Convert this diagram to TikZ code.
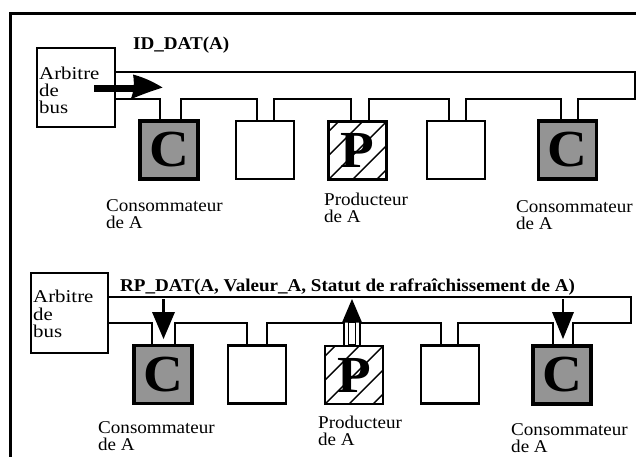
\documentclass[tikz,border=0pt]{standalone}
\usepackage{fontspec}
\setmainfont{Liberation Serif}[FakeStretch=1.06]
\newfontfamily\arbfont{Liberation Serif}[FakeStretch=1.16]
\begin{document}
\begin{tikzpicture}[x=1pt,y=-1pt,
  txt/.style={font=\fontsize{18}{18}\selectfont, inner sep=0pt, anchor=base west},
  arbtxt/.style={txt, font=\fontsize{18}{18}\arbfont},
  ttl/.style={txt, font=\fontsize{18}{18}\selectfont\bfseries},
  bus/.style={line width=2.4pt, line join=miter, line cap=rect},
  arbbox/.style={draw, line width=2.4pt, inner sep=0pt, fill=white},
  wbox/.style={draw, line width=2.6pt, minimum size=58pt, inner sep=0pt, fill=white,
    font=\fontsize{52}{52}\selectfont\bfseries},
  cbox/.style={wbox, line width=3.2pt, fill=black!42},
  pbox/.style={wbox, path picture={
      \foreach \d in {-72,-48,...,72}
        \draw[line width=1.4pt] ([xshift=\d pt]path picture bounding box.south west) -- ++(80,-80);}},
  arrowfill/.style={fill=black},
]
\useasboundingbox (0,0) rectangle (636,456);
% frame
\draw[line width=3pt] (640,13) -- (10,13) -- (10,460);

% ================= top section =================
\node[ttl] (t1) at (133,49) {ID\_DAT(A)};
% bus
\draw[bus] (115,99) -- (160,99) -- (160,121);
\draw[bus] (181,121) -- (181,99) -- (257,99) -- (257,121);
\draw[bus] (274,121) -- (274,99) -- (351,99) -- (351,121);
\draw[bus] (369,121) -- (369,99) -- (449,99) -- (449,121);
\draw[bus] (466,121) -- (466,99) -- (561,99) -- (561,121);
\draw[bus] (578,121) -- (578,99) -- (635,99) -- (635,72) -- (115,72);
% arbiter
\node[arbbox, minimum width=78pt, minimum height=79pt] (arb1) at (76,87.5) {};
\node[arbtxt] (arb1a) at (39,79) {Arbitre};
\node[arbtxt] (arb1b) at (39,96.5) {de};
\node[arbtxt] (arb1c) at (39,113.5) {bus};
% stations
\node[cbox] (c1) at (169,150) {C};
\node[wbox] (e2) at (265,150) {};
\node[pbox] (p3) at (357.5,150.5) {P};
\node[wbox] (e4) at (456,150) {};
\node[cbox] (c5) at (567.5,150) {C};
% arrow
\fill[arrowfill] (94,84.5) rectangle (136,92);
\fill[arrowfill] (133,74.5) .. controls (146,78) and (155,83) .. (162.5,87.5)
   .. controls (152,91) and (140,95) .. (130.5,99.5)
   .. controls (134,92) and (134.5,82) .. (133,74.5);
% labels
\node[txt] (l1a) at (106,211) {Consommateur};
\node[txt] (l1b) at (106,228) {de A};
\node[txt] (l3a) at (324,205.5) {Producteur};
\node[txt] (l3b) at (324,222.5) {de A};
\node[txt] (l5a) at (516,212) {Consommateur};
\node[txt] (l5b) at (516,229) {de A};

% ================= bottom section =================
\node[ttl] (t2) at (120,291) {RP\_DAT(A, Valeur\_A, Statut de rafraîchissement de A)};
\draw[bus] (108,323) -- (152,323) -- (152,345);
\draw[bus] (175,345) -- (175,323) -- (247,323) -- (247,345);
\draw[bus] (267,345) -- (267,323) -- (344,323) -- (344,345);
\draw[bus] (360,345) -- (360,323) -- (441,323) -- (441,345);
\draw[bus] (458,345) -- (458,323) -- (553,323) -- (553,345);
\draw[bus] (573,345) -- (573,323) -- (631,323) -- (631,297) -- (108,297);
\node[arbbox, minimum width=77pt, minimum height=80pt] (arb2) at (69.5,313) {};
\node[arbtxt] (arb2a) at (33,302) {Arbitre};
\node[arbtxt] (arb2b) at (33,320) {de};
\node[arbtxt] (arb2c) at (33,337.5) {bus};
\node[cbox] (d1) at (163,374.5) {C};
\node[wbox] (f2) at (257,374.5) {};
\node[pbox] (q3) at (354,375) {P};
\node[wbox] (f4) at (450,374.5) {};
\node[cbox] (d5) at (562,375) {C};
% arrows
\draw[line width=2.5pt] (163.5,299) -- (163.5,315);
\fill[arrowfill] (152,312) -- (175,312) -- (163.5,339) -- cycle;
\draw[line width=2.5pt] (563,299) -- (563,315);
\fill[arrowfill] (552,312) -- (574,312) -- (563,339) -- cycle;
\fill[arrowfill] (342,322.5) -- (362,322.5) -- (352,299) -- cycle;
\filldraw[fill=white, line width=1.5pt] (348.5,322.5) rectangle (355.5,345);
% labels
\node[txt] (m1a) at (98,433.5) {Consommateur};
\node[txt] (m1b) at (98,450.5) {de A};
\node[txt] (m3a) at (318,428) {Producteur};
\node[txt] (m3b) at (318,445) {de A};
\node[txt] (m5a) at (511,435) {Consommateur};
\node[txt] (m5b) at (511,452) {de A};
\end{tikzpicture}
\end{document}
